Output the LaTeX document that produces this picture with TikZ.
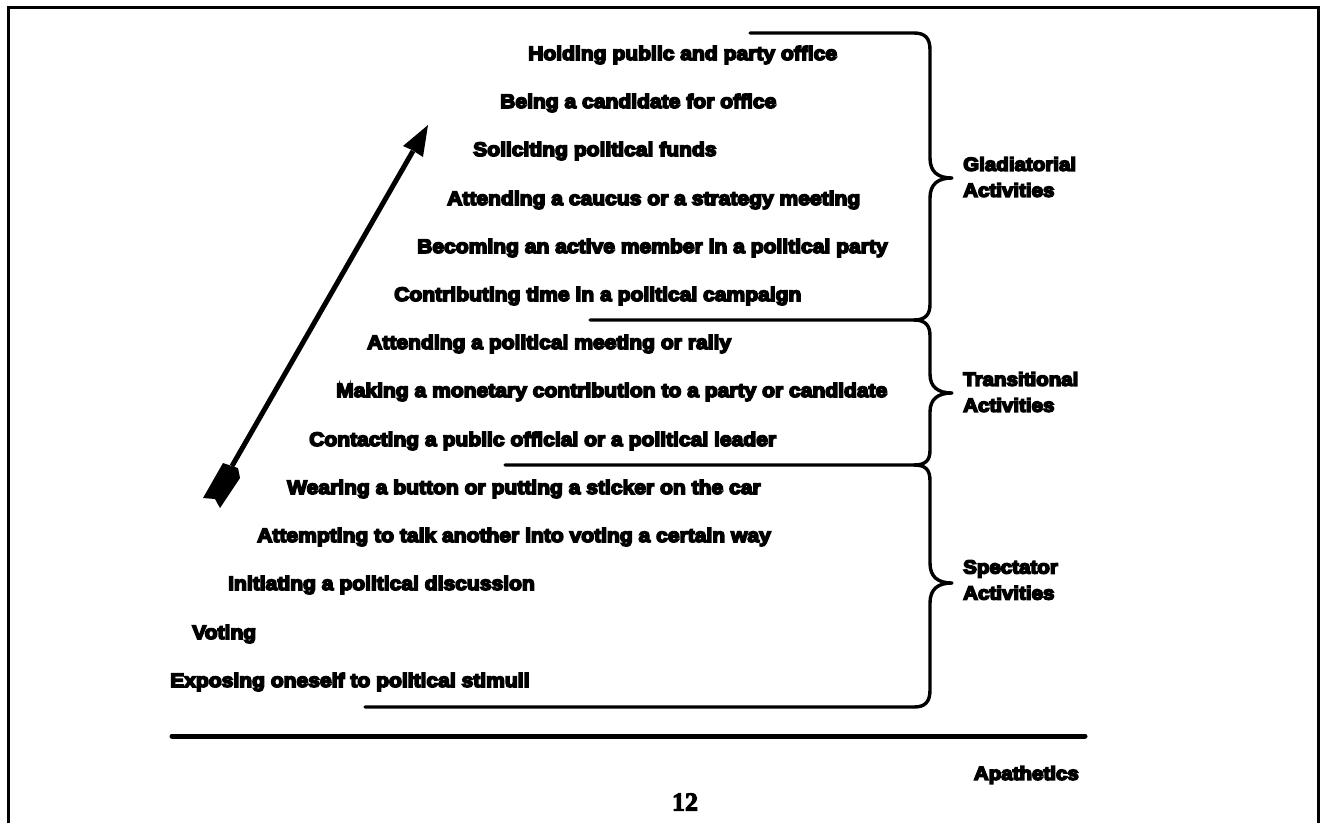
\documentclass[tikz,border=0pt]{standalone}
\usepackage{fontspec}
\setmainfont{Liberation Sans}[BoldFeatures={FakeBold=8,FakeStretch=1.08}]
\newfontfamily\numfont{Liberation Serif}[BoldFeatures={FakeBold=4}]
\begin{document}
\begin{tikzpicture}[x=1pt,y=-1pt,
  item/.style={anchor=west,inner sep=0pt,font=\bfseries\fontsize{19.5}{26}\selectfont},
  grp/.style={anchor=west,inner sep=0pt,align=left,font=\bfseries\fontsize{19}{26}\selectfont},
  brk/.style={line width=3.4pt,line cap=round,line join=round},
  rule/.style={line width=5pt,line cap=round},
  frame/.style={line width=3pt}]
\useasboundingbox (0,0) rectangle (1323,823);
% frame
\draw[frame] (8,823) -- (8,7) -- (1318,7) -- (1318,823);
% items
\node[item] (i1)  at (528,55)  {Holding public and party office};
\node[item] (i2)  at (500,103) {Being a candidate for office};
\node[item] (i3)  at (473,151) {Soliciting political funds};
\node[item] (i4)  at (447,200) {Attending a caucus or a strategy meeting};
\node[item] (i5)  at (417,248) {Becoming an active member in a political party};
\node[item] (i6)  at (394,296) {Contributing time in a political campaign};
\node[item] (i7)  at (367,344) {Attending a political meeting or rally};
\node[item] (i8)  at (336,392) {Making a monetary contribution to a party or candidate};
\node[item] (i9)  at (309,441) {Contacting a public official or a political leader};
\node[item] (i10) at (287,489) {Wearing a button or putting a sticker on the car};
\node[item] (i11) at (257,537) {Attempting to talk another into voting a certain way};
\node[item] (i12) at (228,585) {Initiating a political discussion};
\node[item] (i13) at (192,634) {Voting};
\node[item] (i14) at (170,682) {Exposing oneself to political stimuli};
% group labels
\node[grp] (g1) at (963,177) {Gladiatorial\\Activities};
\node[grp] (g2) at (963,392) {Transitional\\Activities};
\node[grp] (g3) at (963,580) {Spectator\\Activities};
% brackets
\draw[brk] (750,33) -- (914,33) .. controls (925,33) and (930,38) .. (930,50)
  -- (930,158) .. controls (930,172) and (938,178) .. (952,178)
  .. controls (938,178) and (930,184) .. (930,198)
  -- (930,304) .. controls (930,314) and (926,320) .. (914,320) -- (590,320);
\draw[brk] (914,320) .. controls (926,320) and (930,326) .. (930,336)
  -- (930,374) .. controls (930,387) and (938,393) .. (952,393)
  .. controls (938,393) and (930,399) .. (930,412)
  -- (930,450) .. controls (930,460) and (926,465) .. (914,465) -- (505,465);
\draw[brk] (914,465) .. controls (926,465) and (930,470) .. (930,481)
  -- (930,563) .. controls (930,577) and (938,583) .. (952,583)
  .. controls (938,583) and (930,589) .. (930,603)
  -- (930,690) .. controls (930,702) and (925,707) .. (914,707) -- (365,707);
% base rule
\coordinate (r1) at (172,736);
\coordinate (r2) at (1085,736);
\draw[rule] (r1) -- (r2);
\node[grp,anchor=east] (ap) at (1079,775) {Apathetics};
\node[inner sep=0pt,font=\numfont\bfseries\fontsize{26}{28}\selectfont] (pg) at (685,802) {12};
% arrow
\coordinate (atail) at (232,466);
\coordinate (ahead) at (413,151);
\draw[line width=5pt] (atail) -- (ahead);
\fill (428,125) -- (403,146) -- (412,150) -- (423,157) -- cycle;
\fill (203,498) -- (223,463) -- (238,468) -- (240,478) -- (220,508) -- (215,499) -- cycle;
\end{tikzpicture}
\end{document}
